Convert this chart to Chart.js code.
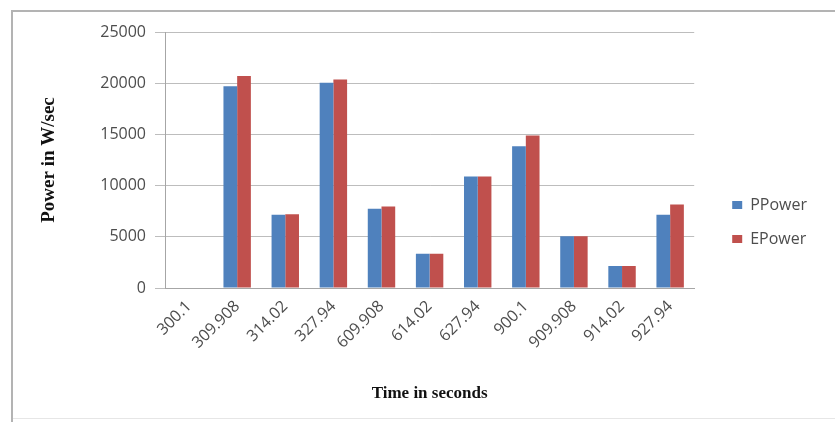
<!DOCTYPE html>
<html>
<head>
<meta charset="utf-8">
<title>PPower vs EPower</title>
<script src="https://cdn.jsdelivr.net/npm/chart.js@4/dist/chart.umd.min.js"></script>
<style>
  html, body { margin: 0; padding: 0; background: #ffffff; }
  #wrap { width: 835px; height: 422px; }
</style>
</head>
<body>
<div id="wrap"><canvas id="chart" width="835" height="422"></canvas></div>
<script>
// Sample times (x-axis categories)
const timeLabels = ['300.1', '309.908', '314.02', '327.94', '609.908', '614.02', '627.94', '900.1', '909.908', '914.02', '927.94'];

// Power values in W/sec
const pPower = [0, 19700, 7150, 20050, 7750, 3350, 10900, 13850, 5050, 2150, 7150];
const ePower = [0, 20700, 7200, 20350, 7950, 3350, 10900, 14900, 5050, 2150, 8150];

// Y-axis range
const yMin = 0;
const yMax = 25000;
const yStep = 5000;

const tickFont = { family: "'Open Sans', 'Liberation Sans', sans-serif", size: 16 };
const titleFont = { family: "'Liberation Serif', 'Times New Roman', serif", weight: 'bold' };

// White page with a thin grey frame around the chart
const framePlugin = {
  id: 'frame',
  beforeDraw(chart) {
    const ctx = chart.ctx;
    ctx.save();
    ctx.fillStyle = '#ffffff';
    ctx.fillRect(0, 0, chart.width, chart.height);
    ctx.strokeStyle = '#b3b3b3';
    ctx.lineWidth = 2;
    ctx.beginPath();
    ctx.moveTo(12, chart.height);
    ctx.lineTo(12, 11);
    ctx.lineTo(chart.width, 11);
    ctx.stroke();
    ctx.strokeStyle = '#e6e6e6';
    ctx.lineWidth = 1;
    ctx.beginPath();
    ctx.moveTo(13, 418.5);
    ctx.lineTo(chart.width, 418.5);
    ctx.stroke();
    ctx.restore();
  }
};

// Leave a gap between the plot and the legend
const legendGapPlugin = {
  id: 'legendGap',
  afterLayout(chart) {
    const lg = chart.legend;
    if (!lg) return;
    const gap = 20;
    lg.left += gap;
    lg.right += gap;
  }
};

new Chart(document.getElementById('chart'), {
  type: 'bar',
  data: {
    labels: timeLabels,
    datasets: [
      { label: 'PPower', data: pPower, backgroundColor: '#4F81BD', borderWidth: 0 },
      { label: 'EPower', data: ePower, backgroundColor: '#C0504D', borderWidth: 0 }
    ]
  },
  options: {
    responsive: false,
    animation: false,
    events: [],
    layout: { padding: { left: 30, right: 38, top: 32, bottom: 10 } },
    datasets: {
      bar: { categoryPercentage: 0.57, barPercentage: 1.0 }
    },
    plugins: {
      tooltip: { enabled: false },
      legend: {
        position: 'right',
        align: 'center',
        labels: {
          boxWidth: 10,
          boxHeight: 8,
          padding: 18,
          color: '#4d4d4d',
          font: { family: "'Open Sans', 'Liberation Sans', sans-serif", size: 16 }
        }
      }
    },
    scales: {
      x: {
        grid: { display: false, drawTicks: false },
        border: { display: true, color: '#a6a6a6', width: 1 },
        ticks: {
          color: '#4d4d4d',
          font: tickFont,
          minRotation: 45,
          maxRotation: 45,
          padding: 9,
          autoSkip: false
        },
        title: {
          display: true,
          text: 'Time in seconds',
          color: '#111111',
          font: Object.assign({ size: 17 }, titleFont),
          padding: { top: 0, bottom: 8 }
        },
        afterFit(scale) { scale.height = 124; }
      },
      y: {
        min: yMin,
        max: yMax,
        grid: { color: '#bdbdbd', lineWidth: 1, drawTicks: true, tickLength: 10, tickColor: '#bdbdbd' },
        border: { display: true, color: '#a6a6a6', width: 1 },
        ticks: {
          stepSize: yStep,
          color: '#4d4d4d',
          font: tickFont,
          padding: 9,
          callback: (value) => String(value)
        },
        title: {
          display: true,
          text: 'Power in W/sec',
          color: '#111111',
          font: Object.assign({ size: 19 }, titleFont),
          padding: { top: 8, bottom: 0 }
        },
        afterFit(scale) { scale.width = 135; }
      }
    }
  },
  plugins: [framePlugin, legendGapPlugin]
});
</script>
</body>
</html>
